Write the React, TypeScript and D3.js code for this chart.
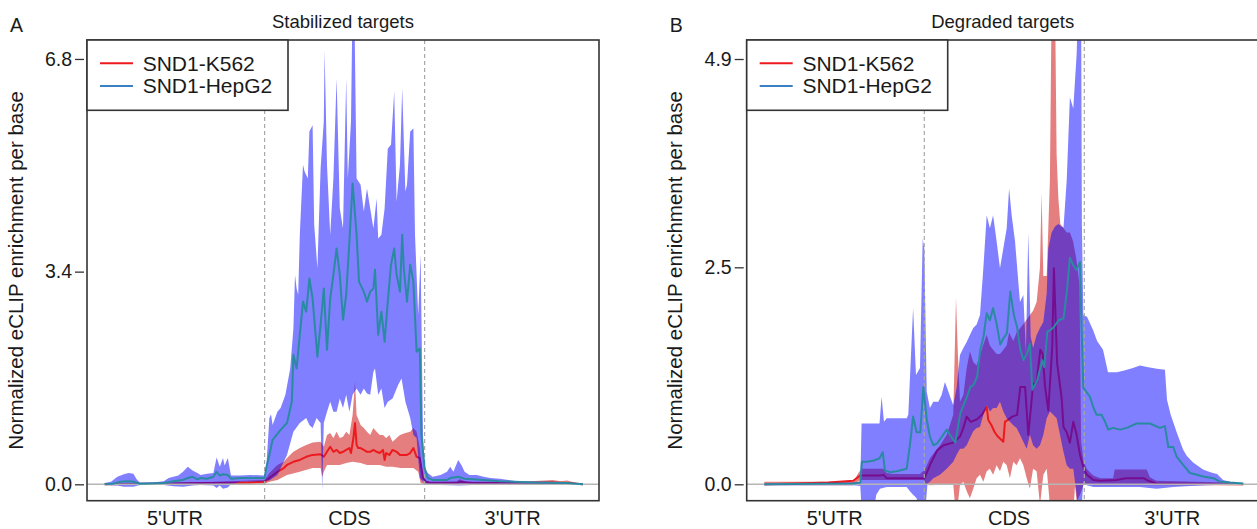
import { useEffect, useRef } from 'react';
import * as d3 from 'd3';

type Pt = [number, number];

// ─── Shared labels ────────────────────────────────────────────────────────────
const REGIONS = ["5'UTR", 'CDS', "3'UTR"];
const REGION_LABEL_AT = [44, 153, 255];
const REGION_EDGES = [100, 200];
const SERIES = ['SND1-K562', 'SND1-HepG2'];
const TITLES = ['Stabilized targets', 'Degraded targets'];
const TAGS = ['A', 'B'];
const A_TICKS = [0, 3.4, 6.8];
const B_TICKS = [0, 2.5, 4.9];
const Y_LABEL = 'Normalized eCLIP enrichment per base';

// ─── Panel A: stabilized targets (bin, value) ────────────────────────────────
const A_K562_MEAN: Pt[] = [
  [0, 0], [30, 0.01], [60, 0.02], [90, 0.03], [100, 0.04], [103, 0.1], [108, 0.2], [112, 0.26], [114, 0.31],
  [118, 0.36], [122, 0.39], [126, 0.44], [130, 0.47], [135, 0.48], [137, 0.44], [139, 0.52], [141, 0.6],
  [143, 0.52], [145, 0.55], [147, 0.5], [149, 0.52], [151, 0.55], [153, 0.58], [154, 0.5], [155.5, 0.74],
  [156.5, 0.98], [157.5, 0.63], [158.5, 0.58], [160, 0.58], [162, 0.55], [164, 0.52], [166, 0.52], [168, 0.55],
  [170, 0.52], [172, 0.5], [174, 0.55], [175, 0.39], [176, 0.5], [178, 0.47], [180, 0.55], [182.5, 0.52],
  [184.6, 0.47], [187, 0.47], [189, 0.47], [191, 0.5], [193, 0.58], [195, 0.44], [197, 0.42], [199, 0.1],
  [201, 0.04], [203, 0.03], [220, 0.02], [222, 0.04], [230, 0.02], [260, 0.02], [280, 0.03], [289, 0.02], [299, 0],
];
const A_K562_HI: Pt[] = [
  [0, 0.01], [60, 0.03], [100, 0.07], [103, 0.18], [108, 0.31], [112, 0.36], [114, 0.42], [118, 0.52],
  [122, 0.58], [126, 0.63], [130, 0.67], [135, 0.68], [137, 0.6], [139, 0.79], [141, 0.82], [143, 0.74],
  [145, 0.84], [147, 0.74], [149, 0.76], [151, 0.84], [153, 0.79], [155, 1.11], [156.5, 1.64], [157.5, 1.11],
  [160, 0.95], [162, 0.9], [164, 0.84], [166, 0.79], [168, 0.9], [170, 0.84], [172, 0.79], [174, 0.79],
  [176, 0.74], [178, 0.79], [180, 0.68], [182.5, 0.74], [184.6, 0.79], [188, 0.82], [191, 0.84], [193, 0.9],
  [195, 0.84], [197, 0.58], [199, 0.04], [201, 0.03], [205, 0.03], [220, 0.05], [222, 0.08], [226, 0.04],
  [260, 0.04], [275, 0.06], [280, 0.07], [285, 0.05], [289, 0.06], [295, 0.02], [299, 0],
];
const A_K562_LO: Pt[] = [
  [0, -0.01], [100, 0.01], [103, 0.04], [108, 0.07], [114, 0.15], [122, 0.2], [130, 0.26], [135, 0.26],
  [136, 0.12], [137, 0.2], [139, 0.31], [147, 0.31], [151, 0.34], [155, 0.36], [160, 0.34], [164, 0.31],
  [168, 0.31], [172, 0.31], [176, 0.28], [180, 0.28], [185, 0.26], [189, 0.26], [193, 0.26], [196, 0.2],
  [197.5, 0.02], [200, 0], [202, -0.01], [299, -0.01],
];
const A_HEPG2_MEAN: Pt[] = [
  [0, 0], [5, 0.01], [10, 0.04], [15, 0.05], [18, 0.04], [22, 0.01], [37, 0.02], [43, 0.05], [49, 0.07],
  [52, 0.1], [55, 0.12], [58, 0.08], [60, 0.1], [64, 0.09], [68, 0.12], [70, 0.2], [72, 0.14], [74, 0.16],
  [77, 0.15], [79, 0.09], [85, 0.1], [91, 0.1], [100, 0.1], [101, 0.26], [103, 0.47], [105, 0.71], [110, 0.87],
  [114, 0.98], [117, 1.32], [118, 2.07], [120, 1.85], [122, 2.39], [124, 2.92], [126, 2.76], [128, 3.29],
  [130, 2.97], [133, 2.04], [135, 2.55], [137, 3.13], [139, 2.15], [141, 2.97], [143, 3.35], [145, 3.77],
  [147, 3.35], [149, 2.63], [151, 3.03], [153, 3.88], [155, 4.81], [157.5, 3.99], [159, 3.24], [162, 3.08],
  [164, 2.92], [166, 3.08], [168, 3.13], [169, 3.43], [171, 2.39], [173, 2.76], [175, 2.28], [177, 2.92],
  [179, 3.51], [181, 3.77], [182.5, 3.35], [184.6, 3.08], [186, 3.99], [187, 3.45], [189, 2.92], [191, 3.51],
  [193, 3.24], [195, 2.12], [197, 2.17], [198, 0.79], [200, 0.26], [202, 0.1], [205, 0.07], [214, 0.07],
  [216, 0.1], [221, 0.12], [225, 0.09], [237, 0.07], [247, 0.05], [268, 0.03], [289, 0.02], [299, 0],
];
const A_HEPG2_HI: Pt[] = [
  [0, 0.02], [4, 0.04], [8, 0.12], [12, 0.16], [15, 0.18], [18, 0.17], [20, 0.08], [22, 0.03], [30, 0.03],
  [37, 0.05], [40, 0.1], [43, 0.12], [46, 0.14], [49, 0.2], [52, 0.28], [55, 0.22], [58, 0.18], [60, 0.15],
  [64, 0.17], [68, 0.18], [70, 0.43], [72, 0.28], [74, 0.42], [75, 0.3], [77, 0.42], [79, 0.14], [85, 0.14],
  [91, 0.15], [100, 0.14], [101, 0.26], [103, 1.06], [104, 1.12], [105, 0.95], [108, 1.16], [110, 1.22],
  [113, 1.43], [116, 1.85], [118, 2.49], [119, 3.35], [120, 3.13], [121, 3.03], [122, 3.99], [124, 5.11],
  [125, 5.0], [127, 4.89], [128, 5.64], [130, 5.74], [131, 4.15], [133, 3.45], [135, 5.05], [137, 5.8],
  [137.5, 6.94], [139, 5.11], [141, 3.99], [143, 4.89], [145, 6.49], [147, 4.41], [149, 4.09], [151, 6.49],
  [152, 4.89], [154, 5.8], [155, 7.8], [156, 7.8], [157.5, 4.89], [160, 4.79], [162, 4.36], [164, 4.73],
  [166, 4.41], [168, 4.09], [170, 4.57], [171, 3.93], [173, 3.99], [175, 4.41], [177, 5.37], [179, 5.43],
  [181, 6.28], [182.5, 4.52], [184.6, 5.11], [186, 6.33], [188, 4.68], [189, 4.79], [191, 5.64], [193, 5.69],
  [194, 3.99], [196, 2.71], [197.5, 3.67], [199, 0.79], [200, 0.26], [202, 0.18], [205, 0.12], [210, 0.15],
  [214, 0.2], [216, 0.28], [218, 0.2], [221, 0.39], [223, 0.31], [225, 0.2], [228, 0.15], [232.5, 0.15],
  [237, 0.12], [241, 0.1], [247, 0.09], [257.5, 0.05], [268, 0.04], [278, 0.04], [289, 0.03], [299, 0],
];
const A_HEPG2_LO: Pt[] = [
  [0, -0.01], [8, -0.02], [12, -0.04], [18, -0.04], [22, -0.01], [37, -0.01], [43, -0.03], [49, -0.04],
  [55, -0.02], [60, -0.01], [68, -0.02], [70, -0.06], [72, -0.02], [74, -0.07], [77, -0.05], [79, 0],
  [85, 0.04], [100, 0.05], [101, 0.06], [103, 0.06], [108, 0.15], [111, 0.31], [114, 0.47], [118, 0.84],
  [122, 0.98], [126, 1.06], [128, 0.95], [130, 0.9], [132.5, 1.06], [135, 0.98], [136, -0.1], [137, 0.98],
  [139, 1.16], [141, 1.32], [143, 1.16], [145, 1.16], [147, 1.37], [149, 1.22], [151, 1.43], [153, 1.16],
  [155, 1.43], [157.5, 1.53], [160, 1.43], [162, 1.53], [164, 1.45], [166, 1.43], [168, 1.8], [169, 1.85],
  [171, 1.43], [173, 1.53], [175, 1.22], [177, 1.32], [180, 1.37], [183.5, 1.59], [185.6, 1.69], [188, 1.32],
  [191, 1.06], [193, 0.79], [195, 0.74], [197, 0.1], [199, 0.04], [200, 0.02], [202, 0], [210, -0.01],
  [222, -0.02], [230, -0.01], [260, -0.01], [299, -0.01],
];

// ─── Panel B: degraded targets (bin, value) ──────────────────────────────────
const B_K562_MEAN: Pt[] = [
  [0, 0], [20, 0.01], [40, 0.02], [55.6, 0.04], [57.7, 0.07], [59.8, 0.1], [64, 0.1], [72.3, 0.1], [74.4, 0.11],
  [76.5, 0.07], [89, 0.07], [100, 0.07], [101, 0.11], [104, 0.24], [108, 0.39], [112, 0.45], [118, 0.48],
  [122.3, 0.55], [124.4, 0.65], [126.5, 0.78], [129, 0.72], [133, 0.75], [136, 0.8], [139, 0.89], [140, 0.74],
  [142, 0.68], [144, 0.6], [146, 0.55], [149.4, 0.49], [150.4, 0.72], [152, 0.74], [155, 0.78], [158, 0.8],
  [160, 1.12], [163, 1.12], [165, 0.57], [168, 1.15], [170.2, 1.18], [172.5, 1.55], [174, 1.5], [175.4, 1.14],
  [177.5, 0.85], [180, 1.6], [181, 2.49], [183, 1.4], [185.8, 1.0], [187, 0.66], [189, 0.6], [191, 0.48],
  [193.1, 0.72], [195.2, 0.57], [197.3, 0.34], [199.4, 0.2], [201.5, 0.11], [203.7, 0.08], [205.6, 0.05],
  [210, 0.04], [220, 0.05], [226, 0.07], [232, 0.07], [237, 0.07], [240, 0.04], [245, 0.01], [299.4, 0],
];
const B_K562_HI: Pt[] = [
  [0, 0.03], [55.6, 0.03], [58.8, 0.13], [60.8, 0.18], [64, 0.18], [74.4, 0.18], [76.5, 0.13], [80, 0.12],
  [97.3, 0.12], [100.4, 0.17], [103.5, 0.3], [109.8, 0.45], [114, 0.57], [118.1, 0.8], [119.8, 2.15], [121, 1.5],
  [122.3, 0.95], [124.4, 1.03], [126.5, 1.34], [128.5, 1.53], [130.6, 1.41], [132.7, 1.37], [134.8, 1.49],
  [136.9, 1.61], [139, 1.72], [141, 1.6], [143, 1.55], [145.2, 1.5], [147.3, 1.5], [149.4, 1.55], [151.5, 1.6],
  [153, 1.75], [155.6, 1.65], [157.7, 1.75], [160, 1.8], [162, 1.85], [164, 1.9], [166, 1.95], [168, 2.0],
  [170.2, 2.1], [172.3, 2.5], [173.3, 3.36], [174.4, 2.4], [176.5, 2.4], [178.5, 3.5], [179.6, 5.6], [181.7, 5.6],
  [182.7, 3.8], [183.75, 3.31], [185, 3.0], [187, 2.95], [189, 2.9], [191, 2.9], [193, 2.8], [195, 2.6],
  [197, 2.3], [198, 0.5], [199.4, 0.28], [201.5, 0.18], [203.5, 0.14], [205.6, 0.1], [210, 0.07], [218, 0.07],
  [219, 0.17], [226.5, 0.17], [232, 0.17], [239, 0.17], [241, 0.08], [245, 0.04], [270, 0.03], [290, 0.02],
  [299.4, 0],
];
const B_K562_LO: Pt[] = [
  [0, -0.01], [55.6, -0.01], [59.8, 0.05], [100, 0.05], [100.4, 0], [103.5, -0.01], [118.1, 0], [119.2, -0.24],
  [120.2, -0.35], [122.3, -0.01], [124.4, 0.03], [126.5, -0.08], [128.5, -0.16], [130.6, -0.05], [132.7, 0.07],
  [134.8, 0.11], [136.9, 0.03], [139, 0.15], [141, 0.18], [143, 0.11], [145.2, 0.22], [147.3, 0.15],
  [149.4, 0.26], [151.5, 0.22], [153.5, 0.07], [155.6, 0.26], [157.7, 0.22], [159.8, 0.3], [161.9, 0.22],
  [164, 0.07], [166, -0.05], [168, 0.18], [170.2, 0.15], [172.3, -0.24], [174.4, 0.11], [176.5, 0.18],
  [178.5, -0.24], [180.6, -0.35], [193.1, -0.35], [194.2, -0.01], [195.2, -0.2], [197.3, -0.12], [199.4, -0.01],
  [201.5, 0], [205.6, -0.01], [299.4, -0.01],
];
const B_HEPG2_MEAN: Pt[] = [
  [0, 0], [56, 0.01], [60, 0.02], [61, 0.26], [64, 0.26], [68, 0.27], [72, 0.3], [74, 0.37], [75.4, 0.16],
  [78.5, 0.14], [82.7, 0.15], [89, 0.18], [91, 0.45], [93, 0.78], [95.2, 0.6], [97.5, 0.6], [99.4, 1.12],
  [101.5, 0.75], [103.5, 0.55], [105.6, 0.45], [108, 0.47], [111, 0.55], [114, 0.63], [116, 0.57],
  [119.4, 0.48], [122.5, 0.82], [126.7, 1.01], [128.75, 1.12], [131, 1.15], [133, 1.24], [135, 1.55],
  [137, 1.7], [139, 1.97], [141, 1.89], [143, 2.03], [145.2, 1.85], [147.5, 1.61], [149.4, 1.68], [151.6, 1.74],
  [153.75, 2.22], [156, 1.95], [158, 1.81], [160, 1.55], [162, 1.43], [164, 1.5], [166, 1.62], [167.5, 1.09],
  [170.6, 1.2], [172, 1.3], [173.75, 1.43], [175, 1.35], [176.9, 1.76], [179, 1.78], [180.9, 1.81], [184, 1.89],
  [187, 1.91], [189, 2.2], [191, 2.61], [193, 2.53], [195, 2.47], [197.3, 2.56], [198.3, 1.8], [199.4, 1.11],
  [203.5, 1.01], [205.6, 0.89], [207.7, 0.8], [210.8, 0.8], [213, 0.72], [215, 0.63], [218, 0.65],
  [222.3, 0.63], [226.5, 0.65], [232.7, 0.7], [241, 0.7], [247.3, 0.65], [250.4, 0.67], [252.5, 0.43],
  [255.6, 0.43], [257.7, 0.32], [261.9, 0.22], [266, 0.13], [270.4, 0.11], [274.4, 0.09], [280.6, 0.07],
  [284.8, 0.03], [291, 0.02], [299.4, 0.01],
];
const B_HEPG2_HI: Pt[] = [
  [0, 0.01], [56, 0.02], [60, 0.02], [60.8, 0.7], [64, 0.7], [72, 0.7], [73.3, 1.01], [74.8, 0.72], [76.5, 0.76],
  [89, 0.76], [90, 0.8], [93, 2.03], [94.8, 1.26], [97.3, 1.34], [99, 2.83], [100, 2.72], [101.5, 1.07],
  [103.5, 0.88], [105.6, 0.95], [108.75, 0.95], [110.8, 1.03], [112.9, 1.18], [115, 1.07], [118.1, 0.91],
  [120.2, 1.11], [122.3, 1.49], [124.4, 1.57], [126.5, 1.64], [128.5, 1.72], [130.6, 1.8], [132.7, 1.84],
  [134.8, 1.95], [136.9, 2.49], [139, 3.1], [141, 2.95], [143, 3.1], [145.2, 2.8], [147.3, 2.49], [149.4, 2.72],
  [151.5, 2.95], [153, 3.41], [154.6, 3.1], [156.7, 2.8], [159.8, 2.1], [161.9, 2.18], [163.5, 1.53], [165, 2.9],
  [166.5, 1.7], [168, 1.57], [170.2, 1.72], [172.3, 1.8], [174.4, 1.87], [176.5, 2.2], [177.5, 2.72],
  [179.6, 2.9], [181.7, 2.97], [183.75, 3.0], [185.8, 2.97], [187, 2.96], [189, 3.5], [191, 4.46], [193.1, 4.33],
  [195.2, 4.95], [196.25, 5.6], [198, 5.6], [198.5, 3.0], [199.4, 1.95], [201.7, 1.93], [205.4, 1.78],
  [208, 1.65], [211.7, 1.55], [214.8, 1.29], [220.4, 1.29], [225, 1.31], [230.4, 1.34], [234.8, 1.37],
  [240, 1.35], [245.4, 1.33], [250.4, 1.32], [251.7, 0.97], [254, 0.8], [257.9, 0.59], [261.7, 0.4], [264, 0.33],
  [268, 0.25], [274.2, 0.17], [277, 0.15], [280.4, 0.13], [283, 0.12], [286.7, 0.05], [293, 0.02], [299.4, 0],
];
const B_HEPG2_LO: Pt[] = [
  [0, -0.01], [56, -0.01], [60, -0.02], [61, -0.35], [68, -0.35], [70, -0.12], [72.3, -0.05], [76.5, -0.03],
  [89, -0.03], [91, -0.08], [93, -0.12], [95.2, -0.16], [97.3, -0.35], [100.4, -0.35], [102, 0.01],
  [103.5, 0.03], [105.6, 0.07], [109.8, 0.11], [114, 0.18], [118.1, 0.26], [120.2, 0.34], [122.3, 0.41],
  [124.4, 0.41], [126.5, 0.45], [128.5, 0.53], [130.6, 0.61], [132.7, 0.65], [134.8, 0.66], [136.9, 0.8],
  [139, 0.91], [141, 0.84], [143, 0.88], [145.2, 0.88], [147.3, 0.95], [149.4, 0.84], [151.5, 0.76],
  [153.5, 0.72], [155.6, 0.68], [157.7, 0.65], [159.8, 0.57], [161.9, 0.49], [164, 0.41], [166, 0.57],
  [168, 0.45], [170.2, 0.41], [172.3, 0.45], [174.4, 0.57], [176.5, 0.76], [178.5, 0.84], [180.6, 0.8],
  [182.7, 0.76], [184.8, 0.57], [186.9, 0.38], [189, 0.22], [191, 0.18], [193.1, 0.18], [195.2, -0.12],
  [196.25, -0.35], [198, -0.35], [199.4, 0.03], [201.5, -0.01], [205.6, -0.03], [234.8, -0.03], [245.2, -0.05],
  [255.6, -0.03], [266, -0.02], [276.5, -0.01], [299.4, 0],
];

const RED = '#ec1a1f';
const RED_BAND = 'rgba(204,0,0,0.5)';
const BLUE_BAND = 'rgba(0,0,255,0.5)';
const TEAL = '#2a8aa2';
const LEGEND_BLUE = '#3b80c2';
const FONT = '"Liberation Sans", Arial, sans-serif';

// ─── One metagene panel ──────────────────────────────────────────────────────
function Panel({ idx, left, yDomain, ticks, k562, hepg2 }) {
  const ref = useRef<SVGGElement>(null);

  useEffect(() => {
    const top = 40, bottom = 500.7, width = 512;
    const g = d3.select(ref.current);
    g.selectAll('*').remove();

    const x = d3.scaleLinear().domain([-11, 309]).range([left, left + width]);
    const y = d3.scaleLinear().domain(yDomain).range([bottom, top]);
    const line = d3.line<Pt>().x(d => x(d[0])).y(d => y(d[1]));
    const band = (hi: Pt[], lo: Pt[]) => line([...hi, ...lo.slice().reverse()]) + 'Z';

    const clipId = `clip-${TAGS[idx]}`;
    g.append('clipPath').attr('id', clipId).append('rect')
      .attr('x', left).attr('y', top).attr('width', width).attr('height', bottom - top);
    const plot = g.append('g').attr('clip-path', `url(#${clipId})`);

    // K562 band + mean
    plot.append('path').attr('d', band(k562.hi, k562.lo)).attr('fill', RED_BAND);
    plot.append('path').attr('d', line(k562.mean)).attr('fill', 'none')
      .attr('stroke', RED).attr('stroke-width', 2).attr('stroke-linejoin', 'round');
    // HepG2 band
    plot.append('path').attr('d', band(hepg2.hi, hepg2.lo)).attr('fill', BLUE_BAND);

    // Guides
    plot.append('line').attr('x1', left).attr('x2', left + width)
      .attr('y1', y(0)).attr('y2', y(0)).attr('stroke', '#b5b5b5').attr('stroke-width', 1.6);
    plot.selectAll('line.edge').data(REGION_EDGES).join('line').attr('class', 'edge')
      .attr('x1', d => x(d)).attr('x2', d => x(d)).attr('y1', top).attr('y2', bottom)
      .attr('stroke', '#a8a8a8').attr('stroke-width', 1.2).attr('stroke-dasharray', '4,3');

    // HepG2 mean
    plot.append('path').attr('d', line(hepg2.mean)).attr('fill', 'none')
      .attr('stroke', TEAL).attr('stroke-width', 2).attr('stroke-linejoin', 'round');

    // Frame
    g.append('rect').attr('x', left).attr('y', top).attr('width', width).attr('height', bottom - top)
      .attr('fill', 'none').attr('stroke', '#333').attr('stroke-width', 1.6);

    // Y axis
    g.append('g').attr('transform', `translate(${left - 3},0)`)
      .call(d3.axisLeft(y).tickValues(ticks).tickSize(9).tickPadding(3).tickFormat(d3.format('.1f')))
      .call(a => a.select('.domain').remove())
      .call(a => a.selectAll('line').attr('stroke', '#333').attr('stroke-width', 1.3))
      .selectAll('text').attr('font-size', 19.5).attr('font-family', FONT).attr('fill', '#1a1a1a');

    // Region labels
    g.append('g').selectAll('text').data(REGIONS).join('text')
      .attr('x', (_d, i) => x(REGION_LABEL_AT[i])).attr('y', 524.5)
      .attr('text-anchor', 'middle').attr('font-size', 20).attr('font-family', FONT).attr('fill', '#1a1a1a')
      .text(d => d);

    // Title, tag, y label
    g.append('text').attr('x', left + width / 2).attr('y', 28.3).attr('text-anchor', 'middle')
      .attr('font-size', 18.5).attr('font-family', FONT).attr('fill', '#1a1a1a').text(TITLES[idx]);
    g.append('text').attr('x', left - 77).attr('y', 32).attr('font-size', 19.5)
      .attr('font-family', FONT).attr('fill', '#1a1a1a').text(TAGS[idx]);
    g.append('text').attr('transform', `translate(${left - 64.5},${(top + bottom) / 2}) rotate(-90)`)
      .attr('text-anchor', 'middle').attr('font-size', 20.5).attr('font-family', FONT).attr('fill', '#1a1a1a')
      .text(Y_LABEL);

    // Legend
    const lg = g.append('g').attr('transform', `translate(${left},${top})`);
    lg.append('rect').attr('width', 201).attr('height', 70.3).attr('fill', '#fff')
      .attr('stroke', '#333').attr('stroke-width', 1.6);
    const colors = [RED, LEGEND_BLUE];
    SERIES.forEach((name, i) => {
      const cy = 23.3 + i * 22.7;
      lg.append('line').attr('x1', 13).attr('x2', 46).attr('y1', cy).attr('y2', cy)
        .attr('stroke', colors[i]).attr('stroke-width', 2);
      lg.append('text').attr('x', 55.7).attr('y', cy + 7.3).attr('font-size', 21)
        .attr('font-family', FONT).attr('fill', '#1a1a1a').text(name);
    });
  }, [idx, left, yDomain, ticks, k562, hepg2]);

  return <g ref={ref} />;
}

const A_DATA = {
  k562: { mean: A_K562_MEAN, hi: A_K562_HI, lo: A_K562_LO },
  hepg2: { mean: A_HEPG2_MEAN, hi: A_HEPG2_HI, lo: A_HEPG2_LO },
};
const B_DATA = {
  k562: { mean: B_K562_MEAN, hi: B_K562_HI, lo: B_K562_LO },
  hepg2: { mean: B_HEPG2_MEAN, hi: B_HEPG2_HI, lo: B_HEPG2_LO },
};
const A_Y = [-0.262, 7.103];
const B_Y = [-0.189, 5.119];

export default function App() {
  return (
    <svg width={1257} height={529} viewBox="0 0 1257 529"
      style={{ position: 'absolute', left: 0, top: 0, background: '#fff' }}>
      <Panel idx={0} left={87} yDomain={A_Y} ticks={A_TICKS} k562={A_DATA.k562} hepg2={A_DATA.hepg2} />
      <Panel idx={1} left={746.7} yDomain={B_Y} ticks={B_TICKS} k562={B_DATA.k562} hepg2={B_DATA.hepg2} />
    </svg>
  );
}
